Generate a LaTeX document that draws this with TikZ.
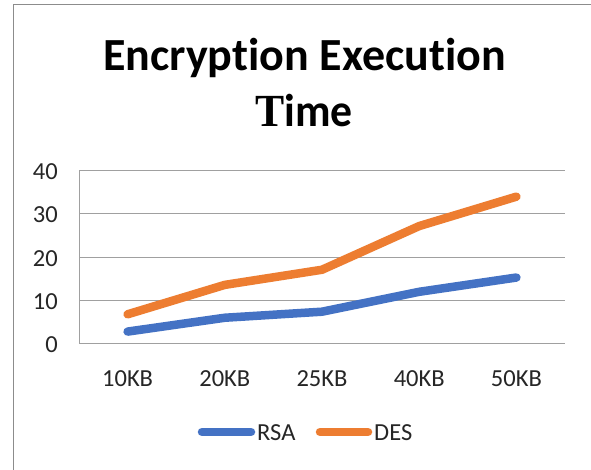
\documentclass[tikz,border=0pt]{standalone}
\usepackage{fontspec}
\setmainfont{Carlito}[Ligatures=NoCommon]
\newfontfamily\serifT{Liberation Serif}
\definecolor{rsablue}{HTML}{4472C4}
\definecolor{desorange}{HTML}{ED7D31}
\definecolor{gridgray}{HTML}{A0A0A0}
\definecolor{framegray}{HTML}{8C8C8C}
\definecolor{labeltext}{HTML}{262626}
\tikzset{
  frameline/.style={draw=framegray, line width=1.4pt},
  gridline/.style={draw=gridgray, line width=1pt},
  rsaline/.style={draw=rsablue, line width=8.5pt, line cap=round, line join=round},
  desline/.style={draw=desorange, line width=8.5pt, line cap=round, line join=round},
  ticklabel/.style={font=\fontsize{24.5}{28}\selectfont, text=labeltext, inner sep=0pt},
  titletext/.style={font=\bfseries\fontsize{46}{50}\selectfont, text=black, inner sep=0pt}
}
\begin{document}
\begin{tikzpicture}[x=1pt,y=-1pt]
\path[use as bounding box] (0,0) rectangle (591,470);
\fill[white] (0,0) rectangle (591,470);
\draw[frameline] (13.5,470) -- (13.5,4.5) -- (591,4.5);

% title
\node[titletext, anchor=base] (title1) at (304.5,71) {Encryption Execution};
\node[titletext, anchor=base] (title2) at (304,126.5) {\scalebox{0.95}[1]{{\serifT T}ime}};

% grid
\foreach \v/\lab in {0/0,1/10,2/20,3/30,4/40} {
  \draw[gridline] (79,{343.7-43.25*\v}) -- (565,{343.7-43.25*\v});
  \node[ticklabel, anchor=east] (y\lab) at (58,{344.7-43.25*\v}) {\lab};
}
\draw[gridline] (79,170.7) -- (79,343.7);

% x labels
\foreach \c/\lab [count=\i] in {127.6/10KB,224.8/20KB,322/25KB,419.2/40KB,516.4/50KB} {
  \node[ticklabel, anchor=base] (x\i) at (\c,386) {\lab};
}

% data points
\foreach \c/\r/\d [count=\i] in {127.6/2.8/6.8,224.8/6.0/13.6,322/7.4/17.1,419.2/12.0/27.2,516.4/15.3/34.0} {
  \coordinate (r\i) at (\c,{343.7-4.325*\r});
  \coordinate (d\i) at (\c,{343.7-4.325*\d});
}
\draw[rsaline] (r1) -- (r2) -- (r3) -- (r4) -- (r5);
\draw[desline] (d1) -- (d2) -- (d3) -- (d4) -- (d5);

% legend
\coordinate (lr1) at (202,432);
\coordinate (lr2) at (251,432);
\coordinate (ld1) at (320,432);
\coordinate (ld2) at (368,432);
\draw[rsaline] (lr1) -- (lr2);
\draw[desline] (ld1) -- (ld2);
\node[ticklabel, anchor=base west] (legrsa) at (257,440) {RSA};
\node[ticklabel, anchor=base west] (legdes) at (374,440) {DES};
\end{tikzpicture}
\end{document}
